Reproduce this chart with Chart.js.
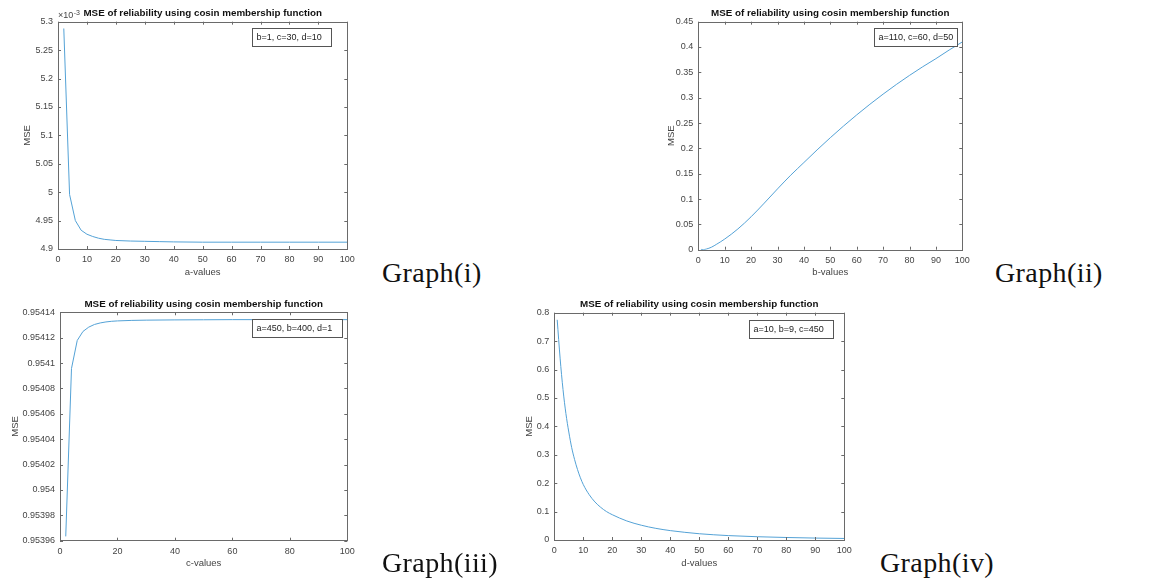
<!DOCTYPE html>
<html>
<head>
<meta charset="utf-8">
<title>MSE of reliability using cosin membership function</title>
<script src="https://cdn.jsdelivr.net/npm/chart.js@4.4.1/dist/chart.umd.min.js"></script>
<style>
  body { margin: 0; background: #fff; width: 1153px; height: 581px; position: relative; overflow: hidden; }
  canvas { position: absolute; }
  .graph-label { position: absolute; font-family: 'Liberation Serif', 'Times New Roman', serif; font-size: 28px; line-height: 28px; color: #111; letter-spacing: 0.4px; white-space: nowrap; }
</style>
</head>
<body>
<canvas id="chartA" width="360" height="290" style="left:0;top:0"></canvas>
<canvas id="chartB" width="340" height="290" style="left:640px;top:0"></canvas>
<canvas id="chartC" width="360" height="291" style="left:0;top:290px"></canvas>
<canvas id="chartD" width="364" height="291" style="left:496px;top:290px"></canvas>
<div class="graph-label" style="left:382px;top:259px">Graph(i)</div>
<div class="graph-label" style="left:995px;top:259px">Graph(ii)</div>
<div class="graph-label" style="left:382px;top:549px">Graph(iii)</div>
<div class="graph-label" style="left:880px;top:549px">Graph(iv)</div>
<script>
// Graph(i): MSE (x10^-3) against a, with b=1, c=30, d=10
const aValues = [2, 4, 6, 8, 10, 12, 14, 16, 18, 20, 25, 30, 35, 40, 50, 60, 70, 80, 90, 100];
const mseA = [5.288, 4.996, 4.950, 4.933, 4.926, 4.922, 4.919, 4.917, 4.916, 4.915, 4.914, 4.9135, 4.913, 4.9125, 4.912, 4.912, 4.912, 4.912, 4.912, 4.912];

// Graph(ii): MSE against b, with a=110, c=60, d=50
const bValues = [1, 2, 3, 5, 7, 10, 15, 20, 25, 30, 35, 40, 45, 50, 55, 60, 65, 70, 75, 80, 85, 90, 95, 100];
const mseB = [0.0005, 0.0003, 0.0012, 0.005, 0.011, 0.021, 0.041, 0.065, 0.092, 0.12, 0.147, 0.172, 0.197, 0.221, 0.244, 0.266, 0.287, 0.307, 0.326, 0.344, 0.361, 0.377, 0.394, 0.41];

// Graph(iii): MSE against c, with a=450, b=400, d=1
const cValues = [2, 4, 6, 8, 10, 12, 14, 16, 18, 20, 25, 30, 40, 50, 60, 70, 80, 90, 100];
const mseC = [0.9539634, 0.9540957, 0.9541178, 0.9541249, 0.9541283, 0.9541304, 0.9541316, 0.9541324, 0.9541329, 0.9541332, 0.9541336, 0.9541338, 0.954134, 0.9541341, 0.9541342, 0.9541342, 0.9541342, 0.9541342, 0.9541342];

// Graph(iv): MSE against d, with a=10, b=9, c=450
const dValues = [1, 2, 3, 4, 5, 6, 7, 8, 9, 10, 12, 14, 16, 18, 20, 25, 30, 35, 40, 45, 50, 60, 70, 80, 90, 100];
const mseD = [0.775, 0.64, 0.53, 0.445, 0.38, 0.325, 0.283, 0.248, 0.219, 0.195, 0.16, 0.134, 0.115, 0.1, 0.089, 0.067, 0.052, 0.041, 0.033, 0.027, 0.022, 0.0155, 0.0115, 0.0088, 0.0068, 0.0054];

const TITLE = 'MSE of reliability using cosin membership function';
const LINE_BLUE = 'rgb(84,162,214)';
const AXIS_GREY = '#6a6a6a';
const FONT = "'Liberation Sans', Arial, Helvetica, sans-serif";

Chart.defaults.font.family = FONT;
Chart.defaults.font.size = 9;
Chart.defaults.color = '#444';

// matlab style box with inward ticks + the little text box
const matlabAxes = {
  id: 'matlabAxes',
  afterDatasetsDraw(chart, args, opts) {
    const { ctx, chartArea: { left, right, top, bottom }, scales: { x, y } } = chart;
    ctx.save();
    ctx.strokeStyle = AXIS_GREY;
    ctx.lineWidth = 1;
    ctx.beginPath();
    x.ticks.forEach((t) => {
      const px = Math.round(x.getPixelForValue(t.value)) + 0.5;
      ctx.moveTo(px, bottom); ctx.lineTo(px, bottom - 3);
      ctx.moveTo(px, top); ctx.lineTo(px, top + 3);
    });
    y.ticks.forEach((t) => {
      const py = Math.round(y.getPixelForValue(t.value)) + 0.5;
      ctx.moveTo(left, py); ctx.lineTo(left + 3, py);
      ctx.moveTo(right, py); ctx.lineTo(right - 3, py);
    });
    ctx.stroke();
    ctx.strokeRect(Math.round(left) + 0.5, Math.round(top) + 0.5, Math.round(right - left), Math.round(bottom - top));

    const note = chart.data.datasets[0].label;
    ctx.font = '9px ' + FONT;
    const tw = ctx.measureText(note).width;
    const bx = Math.round(left + opts.boxLeft) + 0.5;
    const bw = Math.round(Math.max(right - opts.boxRight - left - opts.boxLeft, tw + 8));
    const by = Math.round(top + opts.boxTop) + 0.5;
    const bh = 18;
    ctx.fillStyle = '#fff';
    ctx.fillRect(bx, by, bw, bh);
    ctx.strokeStyle = '#555';
    ctx.strokeRect(bx, by, bw, bh);
    ctx.fillStyle = '#222';
    ctx.textAlign = 'left';
    ctx.textBaseline = 'middle';
    ctx.fillText(note, bx + 4, by + bh / 2 + 0.5);

    if (opts.exponent) {
      ctx.fillStyle = '#444';
      ctx.fillText('\u00d710', left, top - 6.5);
      const w = ctx.measureText('\u00d710').width;
      ctx.font = '7px ' + FONT;
      ctx.fillText(opts.exponent, left + w + 0.5, top - 9);
    }
    ctx.restore();
  },
};

function drawMse(id, xs, ys, cfg) {
  return new Chart(document.getElementById(id), {
    type: 'line',
    data: {
      datasets: [
        {
          label: cfg.note,
          data: xs.map((v, i) => ({ x: v, y: ys[i] })),
          borderColor: LINE_BLUE,
          borderWidth: 1,
          pointRadius: 0,
          fill: false,
          cubicInterpolationMode: cfg.smooth ? 'monotone' : 'default',
          tension: 0,
        },
      ],
    },
    options: {
      responsive: false,
      animation: false,
      devicePixelRatio: 1,
      layout: { padding: { right: cfg.padRight } },
      plugins: {
        legend: { display: false },
        tooltip: { enabled: false },
        title: {
          display: true,
          text: TITLE,
          fullSize: false,
          color: '#111',
          font: { size: 9.8, weight: 'bold', lineHeight: 1.1 },
          padding: { top: cfg.titleTop, bottom: cfg.titleBottom },
        },
        matlabAxes: {
          boxLeft: cfg.boxLeft,
          boxRight: cfg.boxRight,
          boxTop: cfg.boxTop,
          exponent: cfg.exponent,
        },
      },
      scales: {
        x: {
          type: 'linear',
          min: 0,
          max: 100,
          grid: { display: false, drawTicks: false },
          border: { display: false },
          ticks: { stepSize: cfg.xStep, padding: 5, autoSkip: false, maxRotation: 0 },
          title: { display: true, text: cfg.xTitle, font: { size: 9.5 }, padding: { top: 0, bottom: 12 } },
          afterFit: (s) => { s.height = cfg.xHeight; },
        },
        y: {
          type: 'linear',
          min: cfg.yMin,
          max: cfg.yMax,
          grid: { display: false, drawTicks: false },
          border: { display: false },
          ticks: {
            stepSize: cfg.yStep,
            padding: 5,
            autoSkip: false,
            callback: (v) => String(+v.toFixed(6)),
          },
          title: { display: true, text: 'MSE', font: { size: 9.5 }, padding: { top: cfg.yTitlePad, bottom: 0 } },
          afterFit: (s) => { s.width = cfg.yWidth; },
        },
      },
    },
    plugins: [matlabAxes],
  });
}

drawMse('chartA', aValues, mseA, {
  note: 'b=1, c=30, d=10', xTitle: 'a-values', exponent: '-3',
  yMin: 4.9, yMax: 5.3, yStep: 0.05, xStep: 10,
  yWidth: 58, xHeight: 41, padRight: 12.7, titleTop: 7.6, titleBottom: 3.3, yTitlePad: 21.3,
  boxLeft: 194.3, boxRight: 16, boxTop: 6.3,
});
drawMse('chartB', bValues, mseB, {
  note: 'a=110, c=60, d=50', xTitle: 'b-values', smooth: true,
  yMin: 0, yMax: 0.45, yStep: 0.05, xStep: 10,
  yWidth: 58.3, xHeight: 40.3, padRight: 17.7, titleTop: 7.9, titleBottom: 3, yTitlePad: 25.3,
  boxLeft: 176, boxRight: 14.6, boxTop: 6.3,
});
drawMse('chartC', cValues, mseC, {
  note: 'a=450, b=400, d=1', xTitle: 'c-values',
  yMin: 0.95396, yMax: 0.95414, yStep: 0.00002, xStep: 20,
  yWidth: 60, xHeight: 40.3, padRight: 12.7, titleTop: 8.9, titleBottom: 2.6, yTitlePad: 9.6,
  boxLeft: 191.7, boxRight: 5.6, boxTop: 7,
});
drawMse('chartD', dValues, mseD, {
  note: 'a=10, b=9, c=450', xTitle: 'd-values', smooth: true,
  yMin: 0, yMax: 0.8, yStep: 0.1, xStep: 10,
  yWidth: 58.3, xHeight: 41, padRight: 15.7, titleTop: 8.9, titleBottom: 3, yTitlePad: 27.9,
  boxLeft: 194.7, boxRight: 11, boxTop: 7.3,
});
</script>
</body>
</html>
